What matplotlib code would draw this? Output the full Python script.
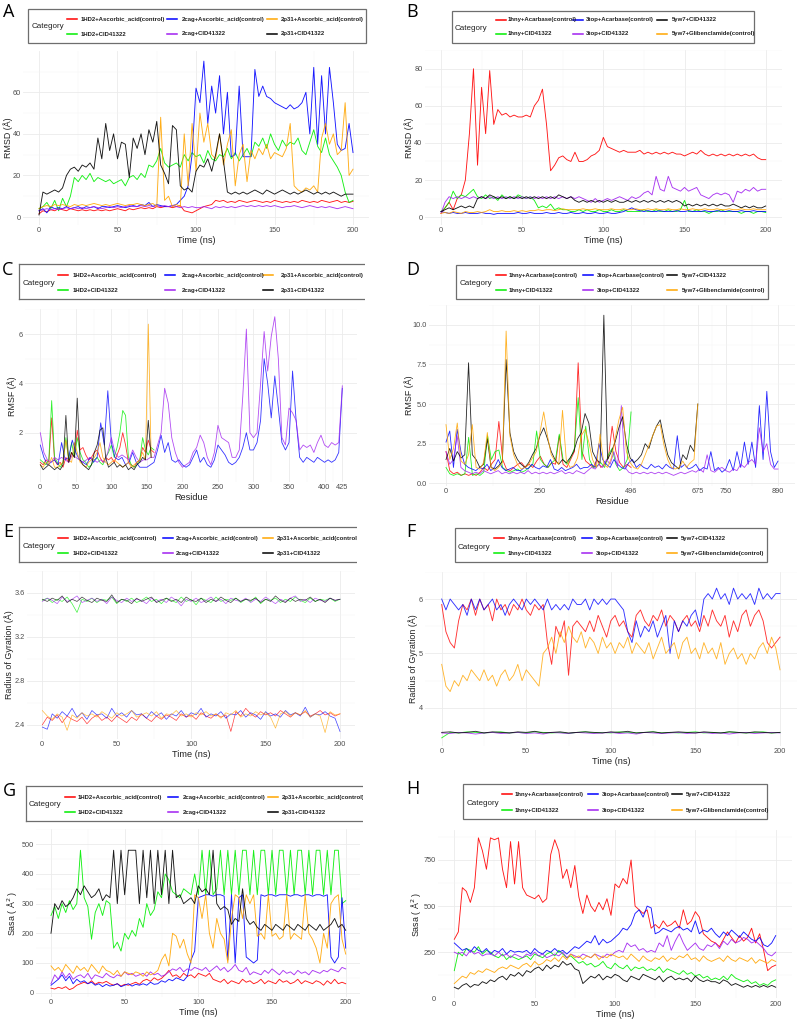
import numpy as np
import matplotlib.pyplot as plt
from matplotlib.patches import Rectangle
from matplotlib.lines import Line2D
from matplotlib.transforms import Affine2D, Bbox, TransformedBbox

plt.rcParams['font.family'] = ['Liberation Sans', 'DejaVu Sans']

W, H = 797, 1021
RED, GREEN, BLUE, PURPLE, ORANGE, BLACK = '#FF0000', '#00EE00', '#0000FF', '#A020F0', '#FFA500', '#000000'

# ---------------- labels ----------------
labels_left = ['1HD2+Ascorbic_acid(control)', '1HD2+CID41322',
               '2cag+Ascorbic_acid(control)', '2cag+CID41322',
               '2p31+Ascorbic_acid(control)', '2p31+CID41322']
labels_right = ['1hny+Acarbase(control)', '1hny+CID41322',
                '3top+Acarbase(control)', '3top+CID41322',
                '5yw7+CID41322', '5yw7+Glibenclamide(control)']
colors_left = [RED, GREEN, BLUE, PURPLE, ORANGE, BLACK]
colors_right = [RED, GREEN, BLUE, PURPLE, BLACK, ORANGE]

# ---------------- A: RMSD (ns 0-200) ----------------
a_1hd2_asc = [1.5, 3, 2.5, 3.5, 3, 4, 3.5, 3, 4,
              3.5, 3, 3.5, 3, 3.5, 3, 3.5, 3,
              3.5, 3, 3.5, 4, 3.5, 3, 4, 3.5,
              4, 4.5, 4, 4.5, 4, 5, 4.5, 5,
              5, 4.5, 5, 5.5, 3, 2.5, 2, 3,
              4, 5, 5.5, 6, 8, 7.5, 8, 7,
              7.5, 7, 8, 7.5, 7, 7.5, 8, 7.5,
              7, 7.5, 7, 8, 7.5, 7, 7.5, 7,
              7.5, 7, 8, 7.5, 7, 7.5, 7, 8,
              7.5, 7, 7.5, 8, 7, 7.5, 7, 7.5]
a_1hd2_cid = [4, 5, 7, 4, 8, 3, 9, 5, 10,
              19, 17, 20, 18, 21, 17, 19, 18,
              17, 18, 16, 17, 18, 15, 19, 20,
              18, 21, 19, 25, 24, 27, 33, 26,
              24, 25, 26, 24, 30, 27, 31, 29,
              30, 26, 32, 28, 27, 30, 29, 33,
              28, 31, 27, 30, 33, 29, 36, 34,
              38, 33, 40, 35, 32, 37, 34, 36,
              35, 38, 32, 30, 36, 42, 34, 31,
              38, 30, 27, 24, 20, 12, 7, 8]
a_2cag_asc = [3, 4, 2, 5, 4, 4.5, 4, 5, 4,
              4.5, 5, 4, 5, 4.5, 5, 4, 5,
              5, 4.5, 5, 5.5, 5, 4.5, 5, 5.5,
              5, 6, 5.5, 7, 5, 6, 5.5, 5,
              5, 5.5, 6, 8, 10, 15, 30, 62,
              55, 75, 45, 63, 50, 68, 40, 60,
              29, 30, 63, 29, 29, 29, 71, 58,
              63, 58, 57, 55, 54, 53, 52, 54,
              52, 53, 55, 60, 40, 72, 35, 68,
              40, 72, 55, 35, 32, 33, 45, 31]
a_2cag_cid = [3, 3.5, 4, 3.5, 4, 3.5, 4, 4.5, 4,
              4.5, 4, 4.5, 4, 4.5, 5, 4.5, 4,
              4.5, 5, 4.5, 5, 4.5, 5, 5.5, 5,
              5, 5.5, 5, 5.5, 5, 5.5, 5, 5.5,
              5, 5.5, 5, 4.5, 5, 4.5, 5, 4.5,
              4.5, 5, 4.5, 4, 5, 4.5, 5, 4.5,
              5, 4.5, 5, 5.5, 5, 5.5, 5, 5.5,
              5, 5.5, 5, 5.5, 5, 4.5, 5, 5,
              5.5, 5, 4.5, 5, 5.5, 5, 4.5, 5,
              4.5, 5, 4.5, 4, 4.5, 5, 4.5, 4]
a_2p31_asc = [4, 5, 5.5, 5, 6, 5.5, 6, 5.5, 5,
              6, 5.5, 6, 5.5, 6, 6.5, 6, 5.5,
              6, 5.5, 6, 6.5, 6, 5.5, 6, 6,
              6.5, 6, 5.5, 6, 6.5, 5, 48, 8,
              10, 5, 6, 5, 40, 15, 45, 22,
              50, 36, 45, 30, 28, 40, 25, 35,
              42, 15, 30, 35, 17, 32, 28, 33,
              30, 35, 28, 31, 30, 29, 33, 45,
              15, 13, 12, 14, 13, 15, 12, 38,
              45, 35, 40, 30, 32, 55, 20, 23]
a_2p31_cid = [1, 12, 11, 12, 13, 12, 14, 20, 23,
              24, 22, 25, 24, 26, 23, 38, 28,
              45, 32, 40, 28, 36, 35, 19, 38,
              33, 40, 30, 42, 36, 46, 25, 21,
              16, 44, 42, 15, 13, 14, 12, 22,
              25, 24, 28, 22, 30, 40, 27, 12,
              11, 12, 11, 12, 11, 12, 13, 12,
              11, 13, 12, 11, 12, 13, 12, 11,
              12, 11, 12, 13, 12, 11, 12, 11,
              12, 11, 12, 11, 10, 11, 11, 11]

# ---------------- B: RMSD (ns 0-200) ----------------
b_1hny_aca = [2, 5, 8, 4, 10, 12, 20, 45, 80,
              28, 70, 45, 79, 50, 58, 55, 56,
              54, 55, 54, 54, 55, 54, 60, 63,
              69, 50, 25, 28, 32, 33, 31, 30,
              35, 30, 30, 31, 33, 34, 36, 43,
              38, 37, 36, 35, 36, 35, 35, 35,
              36, 34, 35, 34, 35, 34, 35, 34,
              35, 34, 34, 33, 34, 35, 34, 36,
              34, 33, 34, 33, 34, 33, 34, 33,
              34, 33, 34, 33, 34, 32, 31, 31]
b_1hny_cid = [3, 5, 8, 14, 10, 12, 11, 13, 15,
              11, 10, 12, 10, 11, 9, 12, 10,
              11, 10, 12, 11, 10, 11, 9, 5,
              6, 5, 7, 4, 5, 4, 4, 3,
              3, 4, 3, 4, 3, 3, 4, 3,
              3, 4, 3, 3, 4, 3, 3, 3,
              3, 4, 3, 3, 4, 3, 3, 4,
              3, 3, 4, 9, 3, 3, 4, 3,
              3, 2, 3, 3, 4, 3, 3, 3,
              3, 2, 3, 3, 2, 3, 3, 2.5]
b_3top_aca = [3, 2.5, 2, 2.5, 2, 2, 2.5, 2, 2,
              2, 2.5, 2, 2, 1.5, 2, 2, 2,
              2, 2, 2.5, 2, 2, 2.5, 2, 2,
              2, 2.5, 2, 2, 2.5, 2, 2, 2.5,
              2, 2, 2.5, 2, 2, 2.5, 2, 2,
              2.5, 2, 2, 2.5, 3, 4, 5, 4,
              3.5, 3, 3.5, 3, 3, 3.5, 3, 3,
              3, 3.5, 3, 3, 3.5, 3, 3, 3,
              3.5, 3, 3, 3.5, 3, 3, 3.5, 3,
              3, 3.5, 3, 3, 3.5, 3, 3, 3]
b_3top_cid = [2, 8, 11, 10, 11, 10, 11, 10, 11,
              10, 11, 10, 11, 10, 11, 10, 11,
              10, 11, 10, 11, 10, 11, 10, 11,
              10, 11, 10, 11, 10, 11, 10, 11,
              10, 11, 10, 9, 8, 10, 8, 9,
              10, 9, 10, 11, 10, 9, 11, 10,
              11, 13, 14, 12, 22, 15, 14, 22,
              16, 15, 14, 16, 14, 15, 16, 12,
              11, 10, 12, 13, 12, 13, 12, 8,
              14, 13, 15, 14, 16, 14, 15, 15]
b_5yw7_cid = [3, 4, 5, 4, 5, 6, 5, 6, 5,
              10, 11, 10, 12, 11, 10, 11, 10,
              11, 10, 11, 10, 11, 10, 11, 10,
              11, 10, 11, 10, 12, 11, 10, 11,
              9, 8, 9, 8, 9, 8, 9, 8,
              9, 8, 9, 8, 8, 9, 8, 9,
              8, 9, 8, 9, 8, 9, 8, 9,
              8, 9, 8, 6, 7, 6, 7, 6,
              7, 6, 7, 6, 7, 6, 6, 7,
              6, 5, 6, 5, 6, 5, 5, 6]
b_5yw7_gli = [2, 2.5, 2, 3, 2.5, 2, 3, 2.5, 2.5,
              3, 2.5, 3, 4, 3, 3, 3.5, 3,
              3, 3.5, 3, 3.5, 3, 3.5, 3.5, 4,
              3.5, 4, 4, 3.5, 4, 4.5, 4, 4,
              4, 4, 4.5, 4, 4, 4.5, 4, 4,
              4, 4.5, 4, 4, 4.5, 4, 4, 4.5,
              4, 4, 4.5, 4, 4.5, 4, 4, 4.5,
              4, 4, 4.5, 4, 4, 4.5, 4, 4,
              4.5, 4, 4, 4.5, 4, 4, 4.5, 4,
              4, 4.5, 4, 4, 4.5, 4, 4, 4]

# ---------------- C: RMSF per residue ----------------
c_1hd2_asc = [0.8, 0.7, 0.9, 0.8, 2.6, 0.9, 0.7, 0.8, 0.6, 1.0,
              0.8, 1.2, 1.0, 2.1, 1.3, 1.4, 1.1, 0.9, 1.0, 1.2,
              1.3, 1.0, 0.8, 1.0, 0.9, 1.0, 0.8, 1.1, 1.4, 2.0,
              1.5, 0.8, 0.7, 0.6, 0.8, 0.9, 1.4, 1.2, 1.7, 1.3, 1.2]
c_1hd2_cid = [0.9, 0.8, 0.7, 0.9, 3.3, 1.0, 0.8, 0.6, 0.8, 1.8,
              0.9, 1.6, 1.0, 1.8, 1.2, 0.9, 0.8, 0.6, 0.7, 0.9,
              1.0, 0.8, 0.7, 1.0, 1.2, 1.5, 1.0, 1.4, 2.0, 2.9,
              2.7, 1.0, 0.7, 0.6, 0.7, 0.9, 1.8, 1.3, 1.1, 1.4, 1.3]
c_2cag_asc = [1.5, 1.0, 0.7, 0.8, 0.9, 0.7, 1.6, 0.9, 1.0, 1.7,
              1.2, 0.9, 0.8, 0.7, 1.0, 0.8, 1.0, 2.4, 1.5, 3.7,
              1.6, 1.0, 0.9, 1.0, 0.7, 0.8, 1.2, 0.8, 0.6, 0.6,
              0.6, 0.7, 0.8, 1.3, 1.9, 1.2, 1.6, 0.9, 0.8, 0.9,
              0.7, 0.6, 0.7, 1.0, 1.3, 0.8, 1.0, 0.7, 0.6, 0.9,
              1.5, 1.3, 1.1, 0.8, 0.7, 0.8, 1.0, 1.4, 2.0, 1.3,
              1.3, 1.6, 2.5, 5.0, 4.0, 2.6, 4.3, 3.0, 1.6, 1.3,
              1.6, 4.5, 2.5, 1.0, 0.8, 1.0, 0.9, 0.8, 1.0, 0.9,
              0.8, 0.9, 0.8, 0.9, 1.2, 3.8]
c_2cag_cid = [2.0, 1.2, 0.9, 0.8, 1.0, 0.9, 1.0, 0.9, 0.8, 1.1,
              1.0, 0.9, 0.8, 0.9, 1.0, 0.9, 0.8, 0.9, 0.8, 1.2,
              1.8, 1.2, 1.0, 1.1, 1.0, 0.9, 1.3, 1.0, 0.8, 0.9,
              0.9, 1.0, 1.0, 1.5, 2.0, 3.8, 3.2, 1.8, 1.2, 0.8,
              0.6, 0.7, 0.8, 1.2, 1.4, 1.9, 1.6, 1.0, 0.7, 1.2,
              2.3, 1.8, 1.7, 1.6, 1.0, 1.0, 1.3, 3.5, 6.2, 2.0,
              1.8, 2.0, 4.0, 6.1, 4.5, 5.9, 6.7, 5.0, 1.8, 1.5,
              3.0, 2.8, 2.5, 1.3, 1.5, 1.4, 1.5, 1.2, 1.6, 1.9,
              1.5, 1.4, 1.6, 1.5, 1.6, 3.9]
c_2p31_asc = [0.7, 0.6, 0.8, 0.7, 1.0, 0.6, 0.6, 0.7, 0.8, 1.7,
              0.9, 0.8, 1.6, 1.2, 0.8, 0.7, 0.6, 0.8, 0.9, 1.0,
              1.2, 1.6, 1.0, 0.8, 0.7, 0.8, 0.9, 0.8, 0.7, 0.6,
              0.7, 0.8, 0.6, 0.7, 0.8, 0.9, 1.2, 0.9, 6.4, 1.0]
c_2p31_cid = [0.7, 0.5, 0.6, 0.7, 0.6, 0.5, 0.6, 0.5, 0.7, 2.7,
              0.8, 1.2, 1.0, 3.4, 0.9, 0.7, 0.6, 0.5, 0.7, 1.2,
              1.5, 2.1, 2.2, 1.0, 0.6, 0.7, 0.8, 0.6, 0.7, 0.6,
              0.7, 0.5, 0.6, 0.5, 0.7, 0.8, 1.0, 0.9, 2.5, 1.0]
c_len = {'1HD2': 160, '2cag': 425, '2p31': 156}

# ---------------- D: RMSF per residue ----------------
d_1hny_aca = [2.0, 0.8, 0.6, 0.7, 0.5, 0.6, 0.5, 0.6, 0.5, 0.7,
              1.0, 0.8, 1.2, 1.5, 3.9, 1.5, 0.9, 0.8, 1.0, 1.2,
              1.3, 1.0, 1.2, 1.0, 1.4, 1.7, 1.2, 1.0, 1.3, 1.2,
              3.0, 1.2, 1.0, 1.5, 2.0, 7.6, 2.0, 1.4, 1.2, 1.0,
              1.5, 1.0, 1.2, 1.6, 3.6, 2.0, 1.3, 1.0, 1.2, 1.0]
d_1hny_cid = [1.0, 0.6, 0.5, 0.6, 0.5, 0.6, 2.9, 0.5, 0.6, 0.5,
              0.7, 3.0, 1.5, 2.0, 2.1, 1.0, 0.8, 0.7, 0.8, 0.9,
              0.7, 0.8, 1.0, 1.2, 3.3, 1.5, 1.2, 1.0, 1.3, 1.5,
              3.1, 1.5, 1.2, 1.6, 2.2, 5.4, 1.5, 3.6, 1.5, 1.0,
              1.1, 1.3, 1.0, 1.8, 2.2, 1.2, 0.8, 1.0, 1.5, 4.5]
d_3top_aca = [2.6, 3.3, 1.0, 3.4, 2.0, 1.2, 1.0, 0.9, 0.8, 1.0,
              0.9, 1.2, 0.8, 1.0, 1.5, 1.0, 0.8, 0.9, 1.0, 0.8,
              0.8, 1.0, 0.9, 1.2, 1.0, 0.9, 1.1, 1.0, 1.5, 0.9,
              0.8, 1.0, 0.8, 0.9, 1.0, 1.2, 0.9, 1.0, 1.0, 1.2,
              1.0, 2.5, 1.5, 1.2, 1.0, 1.5, 1.2, 1.0, 0.9, 1.3,
              1.5, 1.0, 1.2, 1.0, 0.9, 1.2, 1.0, 1.1, 0.9, 1.2,
              1.0, 0.9, 3.0, 1.0, 1.2, 0.9, 1.0, 1.2, 0.8, 1.0,
              0.9, 2.0, 0.8, 1.0, 0.7, 0.9, 1.5, 0.8, 2.0, 1.0,
              2.6, 1.2, 2.6, 1.0, 4.9, 1.5, 5.8, 2.0, 1.0, 1.4]
d_3top_cid = [2.0, 1.2, 1.5, 3.0, 1.0, 0.8, 0.7, 0.6, 0.7, 0.6,
              0.8, 0.7, 0.6, 0.7, 0.8, 0.6, 0.7, 0.6, 0.7, 0.6,
              0.7, 0.6, 0.8, 0.6, 0.7, 0.6, 0.7, 0.6, 0.7, 0.6,
              0.7, 0.8, 0.6, 0.7, 0.6, 0.8, 0.7, 0.6, 0.8, 1.0,
              0.9, 1.2, 1.0, 1.5, 1.2, 2.0, 1.0, 4.9, 1.0, 0.7,
              0.6, 0.7, 0.6, 0.7, 0.6, 0.7, 0.6, 0.7, 0.6, 0.7,
              0.6, 0.5, 0.6, 0.7, 0.6, 0.7, 0.8, 0.7, 0.9, 0.7,
              1.8, 0.8, 0.7, 0.9, 1.0, 0.8, 0.7, 0.9, 0.8, 1.2,
              1.0, 1.3, 1.5, 1.2, 3.5, 2.0, 2.5, 1.2, 0.9, 0.9]
d_5yw7_cid = [1.5, 2.2, 1.4, 2.0, 1.6, 1.8, 7.6, 1.8, 1.5, 1.0,
              1.2, 2.8, 1.0, 0.9, 1.1, 1.4, 7.8, 3.2, 2.0, 1.5,
              1.2, 1.0, 1.3, 1.8, 2.2, 3.0, 3.5, 2.8, 2.0, 1.5,
              1.2, 1.5, 1.3, 1.6, 2.0, 2.8, 3.2, 4.4, 3.8, 2.0,
              1.5, 1.3, 10.6, 1.5, 2.0, 2.6, 3.5, 4.2, 2.5, 1.6,
              1.3, 1.5, 1.8, 2.5, 2.2, 3.0, 3.6, 4.0, 2.8, 1.8,
              1.3, 1.1, 0.9, 1.8, 1.5, 2.4, 2.0, 5.0]
d_5yw7_gli = [3.7, 1.5, 2.2, 3.8, 1.4, 1.2, 1.8, 3.7, 1.0, 0.9,
              1.3, 3.2, 1.0, 0.8, 1.0, 1.3, 9.6, 3.0, 1.8, 1.2,
              0.9, 1.0, 1.2, 1.6, 2.0, 3.2, 4.5, 3.0, 1.8, 1.4,
              1.2, 4.6, 1.5, 1.0, 1.1, 1.6, 3.0, 3.4, 2.6, 1.5,
              1.0, 3.1, 1.2, 1.0, 1.6, 2.8, 4.0, 4.8, 2.0, 1.3,
              1.0, 0.9, 1.2, 1.8, 2.4, 3.0, 3.6, 3.7, 2.4, 1.5,
              1.0, 0.9, 1.0, 1.4, 1.0, 1.3, 1.5, 5.0]
d_len = {'1hny': 496, '3top': 890, '5yw7': 675}

# ---------------- E: radius of gyration ----------------
e_1hd2_asc = [2.40, 2.47, 2.44, 2.49, 2.42, 2.48, 2.45, 2.43, 2.47, 2.41, 2.46, 2.49, 2.44, 2.47, 2.43, 2.48,
              2.45, 2.42, 2.47, 2.44, 2.50, 2.46, 2.43, 2.48, 2.45, 2.49, 2.47, 2.44, 2.50, 2.47, 2.49, 2.45,
              2.51, 2.48, 2.46, 2.50, 2.47, 2.49, 2.34, 2.52, 2.48, 2.55, 2.50, 2.47, 2.52, 2.49, 2.51, 2.48,
              2.53, 2.50, 2.47, 2.51, 2.49, 2.52, 2.48, 2.50, 2.53, 2.49, 2.51, 2.48, 2.50]
e_1hd2_cid = [3.53, 3.55, 3.51, 3.54, 3.52, 3.56, 3.50, 3.42, 3.54, 3.52, 3.55, 3.51, 3.54, 3.53, 3.56, 3.50,
              3.54, 3.52, 3.55, 3.51, 3.53, 3.56, 3.52, 3.54, 3.50, 3.55, 3.53, 3.51, 3.56, 3.52, 3.54, 3.49,
              3.55, 3.53, 3.51, 3.56, 3.52, 3.54, 3.53, 3.55, 3.51, 3.54, 3.52, 3.56, 3.50, 3.54, 3.53, 3.55,
              3.51, 3.54, 3.52, 3.56, 3.53, 3.51, 3.55, 3.52, 3.54, 3.53, 3.55, 3.52, 3.54]
e_2cag_asc = [2.38, 2.36, 2.50, 2.46, 2.52, 2.48, 2.55, 2.47, 2.51, 2.45, 2.53, 2.49, 2.50, 2.46, 2.55, 2.48,
              2.51, 2.47, 2.53, 2.49, 2.50, 2.46, 2.52, 2.48, 2.51, 2.45, 2.50, 2.48, 2.53, 2.47, 2.51, 2.49,
              2.55, 2.47, 2.50, 2.48, 2.52, 2.46, 2.50, 2.49, 2.53, 2.47, 2.51, 2.49, 2.45, 2.52, 2.48, 2.50,
              2.47, 2.53, 2.49, 2.51, 2.48, 2.56, 2.47, 2.50, 2.49, 2.52, 2.48, 2.46, 2.34]
e_2cag_cid = [3.52, 3.55, 3.53, 3.50, 3.56, 3.52, 3.54, 3.57, 3.51, 3.53, 3.55, 3.52, 3.54, 3.50, 3.56, 3.53,
              3.51, 3.55, 3.52, 3.54, 3.53, 3.50, 3.55, 3.52, 3.54, 3.51, 3.56, 3.53, 3.48, 3.54, 3.52, 3.55,
              3.51, 3.53, 3.56, 3.52, 3.54, 3.50, 3.55, 3.53, 3.52, 3.55, 3.51, 3.54, 3.52, 3.56, 3.53, 3.50,
              3.54, 3.52, 3.55, 3.57, 3.52, 3.54, 3.51, 3.55, 3.53, 3.52, 3.55, 3.53, 3.54]
e_2p31_asc = [2.53, 2.48, 2.45, 2.50, 2.47, 2.35, 2.49, 2.46, 2.51, 2.48, 2.50, 2.47, 2.52, 2.49, 2.46, 2.51,
              2.48, 2.50, 2.53, 2.47, 2.49, 2.51, 2.48, 2.52, 2.46, 2.50, 2.49, 2.53, 2.48, 2.50, 2.47, 2.51,
              2.49, 2.52, 2.48, 2.50, 2.46, 2.51, 2.49, 2.53, 2.47, 2.50, 2.48, 2.52, 2.49, 2.51, 2.47, 2.37,
              2.50, 2.52, 2.48, 2.51, 2.49, 2.53, 2.47, 2.50, 2.48, 2.33, 2.52, 2.49, 2.50]
e_2p31_cid = [3.54, 3.52, 3.55, 3.53, 3.57, 3.51, 3.54, 3.52, 3.56, 3.53, 3.51, 3.55, 3.53, 3.52, 3.58, 3.51,
              3.54, 3.53, 3.50, 3.55, 3.52, 3.54, 3.56, 3.51, 3.53, 3.55, 3.52, 3.54, 3.51, 3.56, 3.53, 3.52,
              3.55, 3.51, 3.54, 3.52, 3.56, 3.53, 3.51, 3.55, 3.52, 3.54, 3.53, 3.55, 3.51, 3.54, 3.52, 3.57,
              3.53, 3.51, 3.55, 3.52, 3.54, 3.53, 3.56, 3.52, 3.54, 3.51, 3.55, 3.53, 3.54]

# ---------------- F: radius of gyration ----------------
f_1hny_aca = [5.9, 5.4, 5.2, 5.1, 5.6, 5.9, 5.8, 6.0, 5.7,
              6.0, 5.8, 5.9, 5.6, 6.0, 5.8, 5.9, 5.7,
              5.9, 5.8, 6.0, 5.8, 5.7, 5.9, 5.8, 5.9,
              5.2, 4.8, 5.5, 5.3, 5.6, 4.6, 5.5, 5.6,
              5.5, 5.4, 5.6, 5.4, 5.7, 5.5, 5.3, 5.6,
              5.7, 5.5, 5.6, 5.4, 5.3, 5.7, 5.8, 5.6,
              5.5, 5.7, 5.6, 5.8, 5.5, 5.7, 5.6, 5.4,
              5.6, 5.7, 5.5, 5.6, 5.4, 5.7, 5.5, 5.8,
              5.6, 5.5, 5.7, 5.3, 5.6, 5.4, 5.7, 5.8,
              5.5, 5.7, 5.8, 5.6, 5.2, 5.1, 5.2, 5.3]
f_1hny_cid = [3.45, 3.55, 3.54, 3.56, 3.55, 3.54, 3.55, 3.56, 3.54, 3.55, 3.54, 3.56, 3.55, 3.54,
              3.55, 3.53, 3.55, 3.56, 3.54, 3.55, 3.54, 3.56, 3.55, 3.54, 3.55, 3.56, 3.54, 3.55,
              3.54, 3.55, 3.56, 3.54, 3.55, 3.54, 3.56, 3.55, 3.54, 3.55, 3.56, 3.54, 3.55]
f_3top_aca = [6.0, 5.8, 6.0, 5.9, 5.8, 5.9, 5.7, 6.0, 5.8,
              6.0, 5.8, 5.9, 6.0, 5.8, 5.9, 5.7, 5.9,
              6.0, 5.9, 5.8, 6.0, 5.9, 6.0, 5.9, 5.8,
              6.0, 5.8, 5.9, 5.8, 5.9, 5.8, 6.0, 5.9,
              5.9, 6.0, 5.8, 6.0, 5.9, 6.0, 5.9, 6.0,
              6.0, 5.9, 5.8, 5.4, 5.2, 5.6, 5.3, 5.5,
              5.4, 5.6, 5.3, 5.5, 5.7, 5.0, 5.6, 5.4,
              5.6, 5.5, 5.7, 5.8, 5.5, 6.0, 6.1, 6.0,
              6.2, 6.0, 6.1, 5.9, 6.2, 6.0, 6.1, 6.0,
              6.1, 5.9, 6.2, 6.0, 6.1, 6.0, 6.1, 6.1]
f_3top_cid = [3.54, 3.53, 3.55, 3.54, 3.52, 3.54, 3.55, 3.53, 3.54, 3.55, 3.53, 3.54, 3.52, 3.55,
              3.54, 3.53, 3.55, 3.54, 3.53, 3.54, 3.55, 3.53, 3.54, 3.52, 3.55, 3.54, 3.53, 3.54,
              3.55, 3.53, 3.54, 3.55, 3.53, 3.54, 3.52, 3.54, 3.55, 3.53, 3.54, 3.55, 3.54]
f_5yw7_cid = [3.55, 3.56, 3.54, 3.55, 3.57, 3.54, 3.56, 3.55, 3.54, 3.56, 3.55, 3.57, 3.54, 3.55,
              3.56, 3.54, 3.55, 3.56, 3.55, 3.54, 3.56, 3.55, 3.57, 3.54, 3.55, 3.56, 3.54, 3.55,
              3.56, 3.55, 3.54, 3.56, 3.55, 3.54, 3.56, 3.55, 3.54, 3.56, 3.55, 3.54, 3.55]
f_5yw7_gli = [4.8, 4.4, 4.3, 4.5, 4.4, 4.6, 4.5, 4.7, 4.6,
              4.5, 4.7, 4.5, 4.6, 4.4, 4.6, 4.7, 4.5,
              4.6, 4.8, 4.5, 4.7, 4.6, 4.5, 4.4, 5.0,
              5.1, 5.3, 5.0, 5.4, 5.2, 5.5, 5.3, 5.2,
              5.4, 5.1, 5.3, 5.2, 5.0, 5.3, 5.1, 5.2,
              5.0, 5.2, 5.1, 5.3, 5.0, 5.2, 5.1, 5.0,
              5.2, 4.9, 5.1, 5.3, 5.0, 5.1, 5.2, 4.9,
              5.2, 5.3, 5.0, 5.1, 4.9, 5.2, 5.0, 5.1,
              4.9, 5.2, 4.8, 5.0, 5.1, 4.9, 5.0, 4.8,
              5.0, 4.9, 5.1, 5.2, 5.0, 5.3, 5.1, 4.7]

# ---------------- G: SASA ----------------
g_1hd2_asc = [15, 12, 18, 14, 20, 10, 15, 25, 30,
              35, 30, 40, 28, 35, 32, 38, 30,
              25, 30, 22, 28, 25, 30, 35, 28,
              40, 45, 38, 50, 42, 48, 60, 75,
              55, 60, 50, 65, 55, 60, 50, 65,
              60, 55, 65, 45, 40, 35, 45, 30,
              40, 35, 30, 45, 35, 40, 30, 35,
              45, 30, 40, 35, 30, 45, 35, 40,
              30, 35, 45, 30, 40, 35, 30, 40,
              35, 25, 40, 30, 45, 30, 35, 30]
g_1hd2_cid = [260, 290, 250, 300, 270, 310, 280, 300, 480,
              320, 290, 180, 270, 300, 260, 310, 300,
              150, 170, 140, 200, 180, 210, 190, 250,
              220, 300, 260, 280, 340, 320, 400, 380,
              340, 330, 320, 350, 340, 330, 400, 330,
              480, 330, 480, 330, 350, 480, 330, 480,
              330, 480, 330, 480, 480, 330, 480, 330,
              480, 480, 330, 480, 330, 480, 480, 330,
              480, 330, 480, 480, 330, 480, 330, 480,
              480, 330, 480, 330, 480, 480, 300, 310]
g_2cag_asc = [25, 35, 45, 60, 40, 55, 30, 45, 35,
              40, 30, 35, 25, 30, 20, 28, 22,
              25, 30, 20, 25, 30, 22, 28, 25,
              30, 25, 35, 28, 30, 40, 35, 45,
              40, 50, 45, 40, 55, 110, 140, 320,
              325, 330, 330, 325, 330, 330, 325, 110,
              330, 100, 320, 330, 120, 110, 100, 110,
              330, 325, 330, 330, 325, 330, 330, 330,
              325, 330, 330, 325, 330, 330, 325, 330,
              330, 325, 330, 120, 100, 120, 320, 150]
g_2cag_cid = [30, 60, 45, 70, 50, 65, 45, 55, 60,
              50, 65, 45, 60, 55, 50, 65, 55,
              50, 60, 55, 70, 60, 65, 55, 60,
              65, 55, 70, 60, 65, 55, 60, 70,
              80, 75, 85, 70, 80, 75, 85, 80,
              75, 85, 70, 80, 90, 75, 85, 70,
              80, 95, 75, 70, 85, 60, 70, 65,
              60, 75, 65, 80, 70, 60, 75, 65,
              70, 60, 75, 65, 70, 60, 75, 70,
              65, 75, 70, 80, 75, 70, 85, 80]
g_2p31_asc = [90, 75, 85, 70, 95, 80, 65, 90, 75,
              85, 70, 95, 80, 65, 90, 75, 70,
              60, 75, 55, 70, 65, 60, 70, 65,
              55, 70, 60, 65, 75, 110, 130, 90,
              200, 190, 150, 180, 130, 100, 330, 320,
              250, 330, 200, 150, 250, 200, 180, 100,
              250, 330, 320, 250, 330, 300, 330, 190,
              200, 180, 330, 190, 200, 180, 190, 330,
              180, 200, 190, 180, 330, 200, 180, 150,
              100, 200, 150, 300, 320, 330, 180, 130]
g_2p31_cid = [200, 300, 280, 310, 290, 300, 320, 350, 330,
              360, 340, 320, 330, 350, 310, 330, 320,
              480, 300, 480, 330, 480, 480, 480, 300,
              480, 320, 480, 300, 480, 330, 480, 300,
              480, 320, 330, 300, 310, 320, 300, 360,
              340, 350, 330, 480, 300, 280, 290, 280,
              230, 250, 240, 350, 250, 230, 240, 220,
              210, 230, 220, 210, 230, 220, 210, 230,
              220, 210, 230, 220, 210, 230, 220, 210,
              230, 210, 220, 230, 250, 220, 230, 210]

# ---------------- H: SASA ----------------
h_1hny_aca = [320, 360, 600, 580, 520, 600, 870, 800, 700,
              870, 860, 870, 700, 600, 850, 620, 850,
              600, 560, 550, 540, 560, 520, 540, 780,
              860, 800, 650, 700, 600, 720, 550, 460,
              560, 500, 470, 520, 480, 540, 450, 620,
              600, 650, 620, 750, 500, 480, 460, 480,
              380, 400, 380, 420, 390, 400, 420, 380,
              480, 400, 420, 470, 440, 350, 330, 310,
              300, 280, 320, 360, 330, 300, 340, 310,
              330, 380, 300, 350, 260, 150, 170, 180]
h_1hny_cid = [150, 250, 230, 270, 260, 250, 280, 240, 260,
              250, 230, 220, 240, 210, 230, 220, 210,
              220, 230, 210, 240, 230, 220, 240, 250,
              230, 260, 240, 220, 230, 210, 190, 200,
              180, 190, 170, 180, 200, 170, 160, 190,
              170, 160, 180, 150, 170, 160, 170, 150,
              160, 150, 170, 140, 160, 150, 140, 130,
              150, 130, 140, 120, 130, 110, 120, 100,
              110, 100, 120, 100, 130, 110, 100, 90,
              100, 80, 90, 70, 80, 70, 90, 100]
h_3top_aca = [300, 280, 260, 270, 250, 280, 260, 250, 270,
              240, 260, 250, 270, 240, 260, 250, 255,
              250, 260, 240, 270, 250, 240, 260, 250,
              270, 250, 260, 240, 260, 280, 270, 290,
              310, 300, 340, 290, 320, 300, 310, 330,
              350, 380, 370, 400, 460, 480, 440, 500,
              490, 350, 360, 380, 370, 360, 380, 390,
              370, 380, 360, 420, 350, 370, 360, 380,
              350, 330, 360, 340, 370, 350, 330, 360,
              340, 320, 310, 330, 290, 280, 300, 340]
h_3top_cid = [250, 240, 250, 230, 260, 240, 250, 230, 240,
              240, 230, 250, 230, 240, 220, 240, 230,
              220, 240, 230, 250, 230, 240, 220, 230,
              240, 230, 250, 220, 240, 230, 220, 240,
              230, 220, 240, 230, 220, 240, 230, 250,
              260, 250, 300, 280, 290, 260, 270, 250,
              260, 250, 300, 280, 340, 260, 310, 350,
              300, 260, 280, 300, 270, 260, 290, 280,
              300, 270, 310, 290, 320, 300, 310, 330,
              320, 300, 310, 290, 270, 240, 230, 250]
h_5yw7_cid = [60, 50, 70, 80, 60, 75, 70, 90, 80,
              100, 90, 110, 120, 100, 130, 120, 140,
              120, 150, 140, 160, 170, 150, 180, 160,
              180, 170, 200, 180, 190, 160, 150, 80,
              100, 120, 110, 130, 100, 120, 110, 130,
              120, 100, 90, 120, 110, 100, 130, 120,
              110, 100, 120, 90, 110, 120, 100, 110,
              100, 110, 90, 120, 100, 90, 100, 90,
              90, 80, 100, 90, 70, 80, 70, 60,
              70, 60, 70, 60, 70, 60, 70, 60]
h_5yw7_gli = [80, 100, 120, 110, 140, 130, 150, 140, 160,
              150, 140, 160, 170, 160, 180, 170, 160,
              180, 190, 170, 200, 180, 190, 210, 200,
              220, 200, 230, 210, 240, 220, 230, 210,
              230, 220, 240, 210, 230, 220, 240, 230,
              220, 230, 210, 240, 220, 200, 230, 210,
              200, 220, 210, 230, 200, 220, 210, 230,
              220, 240, 210, 220, 200, 230, 210, 200,
              210, 220, 200, 230, 210, 200, 220, 210,
              200, 220, 190, 210, 200, 190, 210, 200]

# ---------------- drawing helpers ----------------
fig = plt.figure(figsize=(W / 100, H / 100), dpi=100)
pix = Affine2D().scale(1 / W, -1 / H).translate(0, 1) + fig.transFigure


def make_axes(xmap, ymap, xlim, ylim):
    (v0, p0), (v1, p1) = xmap
    sx = (p1 - p0) / (v1 - v0)
    left, right = p0 + (xlim[0] - v0) * sx, p0 + (xlim[1] - v0) * sx
    (w0, q0), (w1, q1) = ymap
    sy = (q1 - q0) / (w1 - w0)
    top, bottom = q0 + (ylim[1] - w0) * sy, q0 + (ylim[0] - w0) * sy
    ax = fig.add_axes([left / W, 1 - bottom / H, (right - left) / W, (bottom - top) / H])
    ax.set_xlim(xlim)
    ax.set_ylim(ylim)
    for s in ax.spines.values():
        s.set_visible(False)
    ax.set_facecolor('white')
    ax.tick_params(length=0, labelsize=5.3, labelcolor='#4D4D4D', pad=1.6)
    ax.set_axisbelow(True)
    ax.px_box = (left, right)
    return ax


def set_ticks(ax, xt, yt, xlabels=None, ylabels=None):
    ax.set_xticks(xt)
    ax.set_yticks(yt)
    if xlabels:
        ax.set_xticklabels(xlabels)
    if ylabels:
        ax.set_yticklabels(ylabels)
    xm = [(a + b) / 2 for a, b in zip(xt[:-1], xt[1:])]
    ym = [(a + b) / 2 for a, b in zip(yt[:-1], yt[1:])]
    ym = ym + [yt[-1] + (yt[1] - yt[0]) / 2]
    ax.set_xticks(xm, minor=True)
    ax.set_yticks(ym, minor=True)
    ax.tick_params(which='minor', length=0)
    ax.grid(True, which='major', color='#EBEBEB', lw=0.6)
    ax.grid(True, which='minor', color='#F4F4F4', lw=0.35)


def titles(ax, xl, yl, ylabel_px):
    ax.set_xlabel(xl, fontsize=6.6, labelpad=1.5, color='#222222')
    ax.set_ylabel(yl, fontsize=6.4, color='#222222', va='center')
    left, right = ax.px_box
    ax.yaxis.set_label_coords((ylabel_px - left) / (right - left), 0.5)


def legend(box, clip_x, cat_xy, col_x, rows_y, labels, colors):
    x0, y0, x1, y1 = box
    cb = TransformedBbox(Bbox([[0, 0], [clip_x, H]]), pix)
    edge = '#6E6E6E'
    if clip_x >= x1:
        fig.add_artist(Rectangle((x0, y0), x1 - x0, y1 - y0, transform=pix,
                                 fill=False, ec=edge, lw=0.9))
    else:
        for xs, ys in [((x0, x0), (y0, y1)), ((x0, x1), (y0, y0)), ((x0, x1), (y1, y1))]:
            ln = Line2D(xs, ys, transform=pix, color=edge, lw=0.9)
            ln.set_clip_box(cb)
            fig.add_artist(ln)
    fig.text(cat_xy[0], cat_xy[1], 'Category', transform=pix, fontsize=5.8,
             va='center', ha='left', color='#222222')
    for i, (lab, col) in enumerate(zip(labels, colors)):
        c, r = divmod(i, 2)
        lx, tx = col_x[c]
        ln = Line2D([lx, lx + 10], [rows_y[r], rows_y[r]], transform=pix, color=col, lw=1.1)
        fig.add_artist(ln)
        t = fig.text(tx, rows_y[r], lab, transform=pix, fontsize=4.3, fontweight='bold',
                     va='center', ha='left', color='#222222')
        t.set_clip_box(cb)
        t.set_clip_on(True)


def letter(x, y, s):
    fig.text(x, y, s, transform=pix, fontsize=13, family='Open Sans',
             va='top', ha='left', color='black')


def time_lines(ax, series, colors, lw=0.65, alpha=0.9):
    for vals, col in zip(series, colors):
        t = np.linspace(0, 200, len(vals))
        ax.plot(t, vals, color=col, lw=lw, alpha=alpha)


# ---------------- A ----------------
ax = make_axes(((0, 39), (200, 353)), ((0, 217), (60, 92.3)), (-10, 210), (-3.8, 79.8))
set_ticks(ax, [0, 50, 100, 150, 200], [0, 20, 40, 60])
time_lines(ax, [a_1hd2_asc, a_1hd2_cid, a_2cag_asc, a_2cag_cid, a_2p31_asc, a_2p31_cid], colors_left)
titles(ax, 'Time (ns)', 'RMSD (Å)', 8)
legend((28, 9, 366, 43), 999, (32, 27), [(67, 81), (167, 182), (267, 281)], (19, 34),
       labels_left, colors_left)
letter(3, 3, 'A')

# ---------------- B ----------------
ax = make_axes(((0, 441), (200, 765.7)), ((0, 216.7), (80, 60)), (-10, 210), (-4, 85))
set_ticks(ax, [0, 50, 100, 150, 200], [0, 20, 40, 60, 80])
time_lines(ax, [b_1hny_aca, b_1hny_cid, b_3top_aca, b_3top_cid, b_5yw7_cid, b_5yw7_gli], colors_right)
titles(ax, 'Time (ns)', 'RMSD (Å)', 409)
legend((452, 11, 754, 43), 999, (455, 28), [(496, 508), (573, 586), (657, 672)], (20, 34),
       labels_right, colors_right)
letter(406, 3, 'B')

# ---------------- C ----------------
ax = make_axes(((0, 40.3), (425, 342.3)), ((2, 432.7), (6, 334)), (-21, 446), (0.0, 7.0))
set_ticks(ax, [0, 50, 100, 150, 200, 250, 300, 350, 400, 425], [2, 4, 6])
c_series = [(c_1hd2_asc, c_len['1HD2']), (c_1hd2_cid, c_len['1HD2']),
            (c_2cag_asc, c_len['2cag']), (c_2cag_cid, c_len['2cag']),
            (c_2p31_asc, c_len['2p31']), (c_2p31_cid, c_len['2p31'])]
for (vals, n), col in zip(c_series, colors_left):
    ax.plot(np.linspace(0, n, len(vals)), vals, color=col, lw=0.6, alpha=0.8)
titles(ax, 'Residue', 'RMSF (Å)', 12)
legend((19, 264, 380, 299), 365, (23, 283), [(58, 73), (165, 182), (263, 281)], (275, 290),
       labels_left, colors_left)
letter(2, 261, 'C')

# ---------------- D ----------------
ax = make_axes(((0, 446), (890, 778)), ((0, 483.3), (10, 324)), (-44.5, 934.5), (-0.15, 11.2))
set_ticks(ax, [0, 250, 496, 675, 750, 890], [0, 2.5, 5.0, 7.5, 10.0],
          ylabels=['0.0', '2.5', '5.0', '7.5', '10.0'])
d_series = [(d_1hny_aca, d_len['1hny']), (d_1hny_cid, d_len['1hny']),
            (d_3top_aca, d_len['3top']), (d_3top_cid, d_len['3top']),
            (d_5yw7_cid, d_len['5yw7']), (d_5yw7_gli, d_len['5yw7'])]
for (vals, n), col in zip(d_series, colors_right):
    ax.plot(np.linspace(0, n, len(vals)), vals, color=col, lw=0.6, alpha=0.85)
titles(ax, 'Residue', 'RMSF (Å)', 409)
legend((456, 265, 768, 299), 999, (460, 283), [(496, 509), (583, 597), (667, 682)], (275, 290),
       labels_right, colors_right)
letter(406, 261, 'D')

# ---------------- E ----------------
ax = make_axes(((0, 42.3), (200, 340)), ((3.6, 576.7), (2.4, 723.3)), (-10, 210), (2.27, 3.65))
set_ticks(ax, [0, 50, 100, 150, 200], [2.4, 2.8, 3.2, 3.6])
time_lines(ax, [e_1hd2_asc, e_1hd2_cid, e_2cag_asc, e_2cag_cid, e_2p31_asc, e_2p31_cid],
           colors_left, lw=0.5, alpha=0.75)
titles(ax, 'Time (ns)', 'Radius of Gyration (Å)', 9)
legend((19, 527, 380, 562), 357, (23, 546), [(58, 73), (163, 176), (263, 277)], (538, 553),
       labels_left, colors_left)
letter(3, 523, 'E')

# ---------------- F ----------------
ax = make_axes(((0, 441.7), (200, 780)), ((6, 596.7), (4, 707.3)), (-10, 210), (3.3, 6.45))
set_ticks(ax, [0, 50, 100, 150, 200], [4, 5, 6])
time_lines(ax, [f_1hny_aca, f_1hny_cid, f_3top_aca, f_3top_cid, f_5yw7_cid, f_5yw7_gli],
           colors_right, lw=0.65, alpha=0.8)
titles(ax, 'Time (ns)', 'Radius of Gyration (Å)', 413)
legend((455, 528, 767, 562), 999, (458, 547), [(494, 508), (582, 596), (667, 681)], (538, 553),
       labels_right, colors_right)
letter(406, 523, 'F')

# ---------------- G ----------------
ax = make_axes(((0, 51), (200, 345.7)), ((0, 992.3), (500, 833.3)), (-10, 210), (-15, 512))
set_ticks(ax, [0, 50, 100, 150, 200], [0, 100, 200, 300, 400, 500])
time_lines(ax, [g_1hd2_asc, g_1hd2_cid, g_2cag_asc, g_2cag_cid, g_2p31_asc, g_2p31_cid], colors_left)
titles(ax, 'Time (ns)', 'Sasa ( Å$^2$ )', 13)
legend((26, 786, 380, 821), 363, (29, 804), [(65, 78), (168, 183), (268, 282)], (797, 812),
       labels_left, colors_left)
letter(3, 782, 'G')

# ---------------- H ----------------
ax = make_axes(((0, 454.3), (200, 775.7)), ((0, 998.3), (750, 860)), (-10, 210), (0, 915))
set_ticks(ax, [0, 50, 100, 150, 200], [0, 250, 500, 750])
time_lines(ax, [h_1hny_aca, h_1hny_cid, h_3top_aca, h_3top_cid, h_5yw7_cid, h_5yw7_gli], colors_right)
titles(ax, 'Time (ns)', 'Sasa ( Å$^2$ )', 417)
legend((463, 784, 767, 819), 999, (467, 803), [(502, 515), (588, 602), (672, 686)], (794, 810),
       labels_right, colors_right)
letter(406, 780, 'H')

fig.savefig('out.png', dpi=100, facecolor='white')
